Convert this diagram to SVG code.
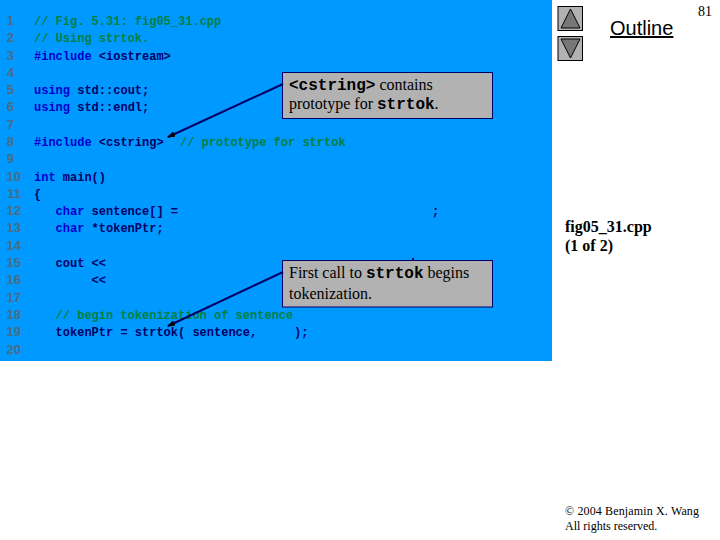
<svg xmlns="http://www.w3.org/2000/svg" width="720" height="540" viewBox="0 0 720 540">
<defs>
<style>
.c{font-family:"Liberation Mono",monospace;font-size:12px;font-weight:bold}
.k{fill:#0000cc}.t{fill:#000066}.g{fill:#008040}
.n{font-family:"Liberation Sans",Arial,sans-serif;font-size:13px;font-weight:bold;fill:#4c6b85;text-anchor:end}
.s{font-family:"Liberation Serif",serif;font-size:16px;fill:#000}
.m{font-family:"Liberation Mono",monospace;font-size:16px;font-weight:bold}
.b{fill:#b2b2b2;stroke:#000066;stroke-width:1}
.btn{fill:#b2b2b2;stroke:#000;stroke-width:1}
.tri{fill:#777;stroke:#000;stroke-width:1}
.a{stroke:#000066;stroke-width:2;fill:none;marker-end:url(#ah)}
</style>
<marker id="ah" markerUnits="userSpaceOnUse" markerWidth="8" markerHeight="6" refX="7" refY="3" orient="auto"><path d="M0 0L8 3L0 6z" fill="#000"/></marker>
</defs>
<rect id="panel" x="0" y="0" width="552" height="361" fill="#0099ff"/>
<g id="line-numbers" class="n">
<text x="14" y="25">1</text><text x="14" y="42">2</text><text x="14" y="60">3</text><text x="14" y="77">4</text><text x="14" y="94">5</text><text x="14" y="111">6</text><text x="14" y="129">7</text><text x="14" y="146">8</text><text x="14" y="163">9</text><text x="21" y="181">10</text><text x="21" y="198">11</text><text x="21" y="215">12</text><text x="21" y="232">13</text><text x="21" y="250">14</text><text x="21" y="267">15</text><text x="21" y="284">16</text><text x="21" y="302">17</text><text x="21" y="319">18</text><text x="21" y="336">19</text><text x="21" y="354">20</text>
</g>
<g id="code" class="c">
<text x="34" y="25" class="g">// Fig. 5.31: fig05_31.cpp</text>
<text x="34" y="42" class="g">// Using strtok.</text>
<text x="34" y="60"><tspan class="k">#include</tspan><tspan class="t"> &lt;iostream&gt;</tspan></text>
<text x="34" y="94"><tspan class="k">using</tspan><tspan class="t"> std::cout;</tspan></text>
<text x="34" y="111"><tspan class="k">using</tspan><tspan class="t"> std::endl;</tspan></text>
<text x="34" y="146"><tspan class="k">#include</tspan><tspan class="t"> &lt;cstring&gt;</tspan></text>
<text x="180" y="146" class="g">// prototype for strtok</text>
<text x="34" y="181" class="t"><tspan class="k">int</tspan> main()</text>
<text x="34" y="198" class="t">{</text>
<text x="55.6" y="215" class="t"><tspan class="k">char</tspan> sentence[] =</text>
<text x="432" y="215" class="t">;</text>
<text x="55.6" y="232" class="t"><tspan class="k">char</tspan> *tokenPtr;</text>
<text x="55.6" y="267" class="t">cout &lt;&lt;</text>
<rect x="412" y="258" width="2" height="2.500" fill="#000066"/>
<text x="91.6" y="284" class="t">&lt;&lt;</text>
<text x="55.6" y="319" class="g">// begin tokenization of sentence</text>
<text x="55.6" y="336" class="t">tokenPtr = strtok( sentence,</text>
<text x="294" y="336" class="t">);</text>
</g>
<g id="callout-1">
<rect class="b" x="282.5" y="72.5" width="210" height="46"/>
<text x="289" y="90" class="s"><tspan class="m">&lt;cstring&gt;</tspan> contains</text>
<text x="289" y="109" class="s">prototype for <tspan class="m">strtok</tspan>.</text>
</g>
<g id="callout-2">
<rect class="b" x="282.5" y="260.5" width="210" height="46.5"/>
<text x="289" y="278" class="s">First call to <tspan class="m">strtok</tspan> begins</text>
<text x="289" y="299" class="s">tokenization.</text>
</g>
<g id="connectors">
<path class="a" d="M283 84L168 137"/>
<path class="a" d="M283 272L168 326"/>
</g>
<g id="button-up"><rect class="btn" x="558" y="6.500" width="24.500" height="24"/><path class="tri" d="M570.500 9L561 28H580z"/></g>
<g id="button-down"><rect class="btn" x="558" y="36.500" width="24.500" height="24"/><path class="tri" d="M561 39H580L570.500 58z"/></g>
<g id="outline"><text x="610" y="35" font-family="'Liberation Sans',Arial,sans-serif" font-size="20" text-decoration="underline" fill="#000">Outline</text></g>
<g id="page"><text x="698" y="16" font-family="'Liberation Serif',serif" font-size="14" fill="#000">81</text></g>
<g id="file-label" font-family="'Liberation Serif',serif" font-size="16" font-weight="bold" fill="#000">
<text x="565" y="232">fig05_31.cpp</text>
<text x="565" y="251">(1 of 2)</text>
</g>
<g id="copyright" font-family="'Liberation Serif',serif" font-size="12" fill="#000">
<text x="565" y="515" textLength="134">© 2004 Benjamin X. Wang</text>
<text x="565" y="530">All rights reserved.</text>
</g>
</svg>
